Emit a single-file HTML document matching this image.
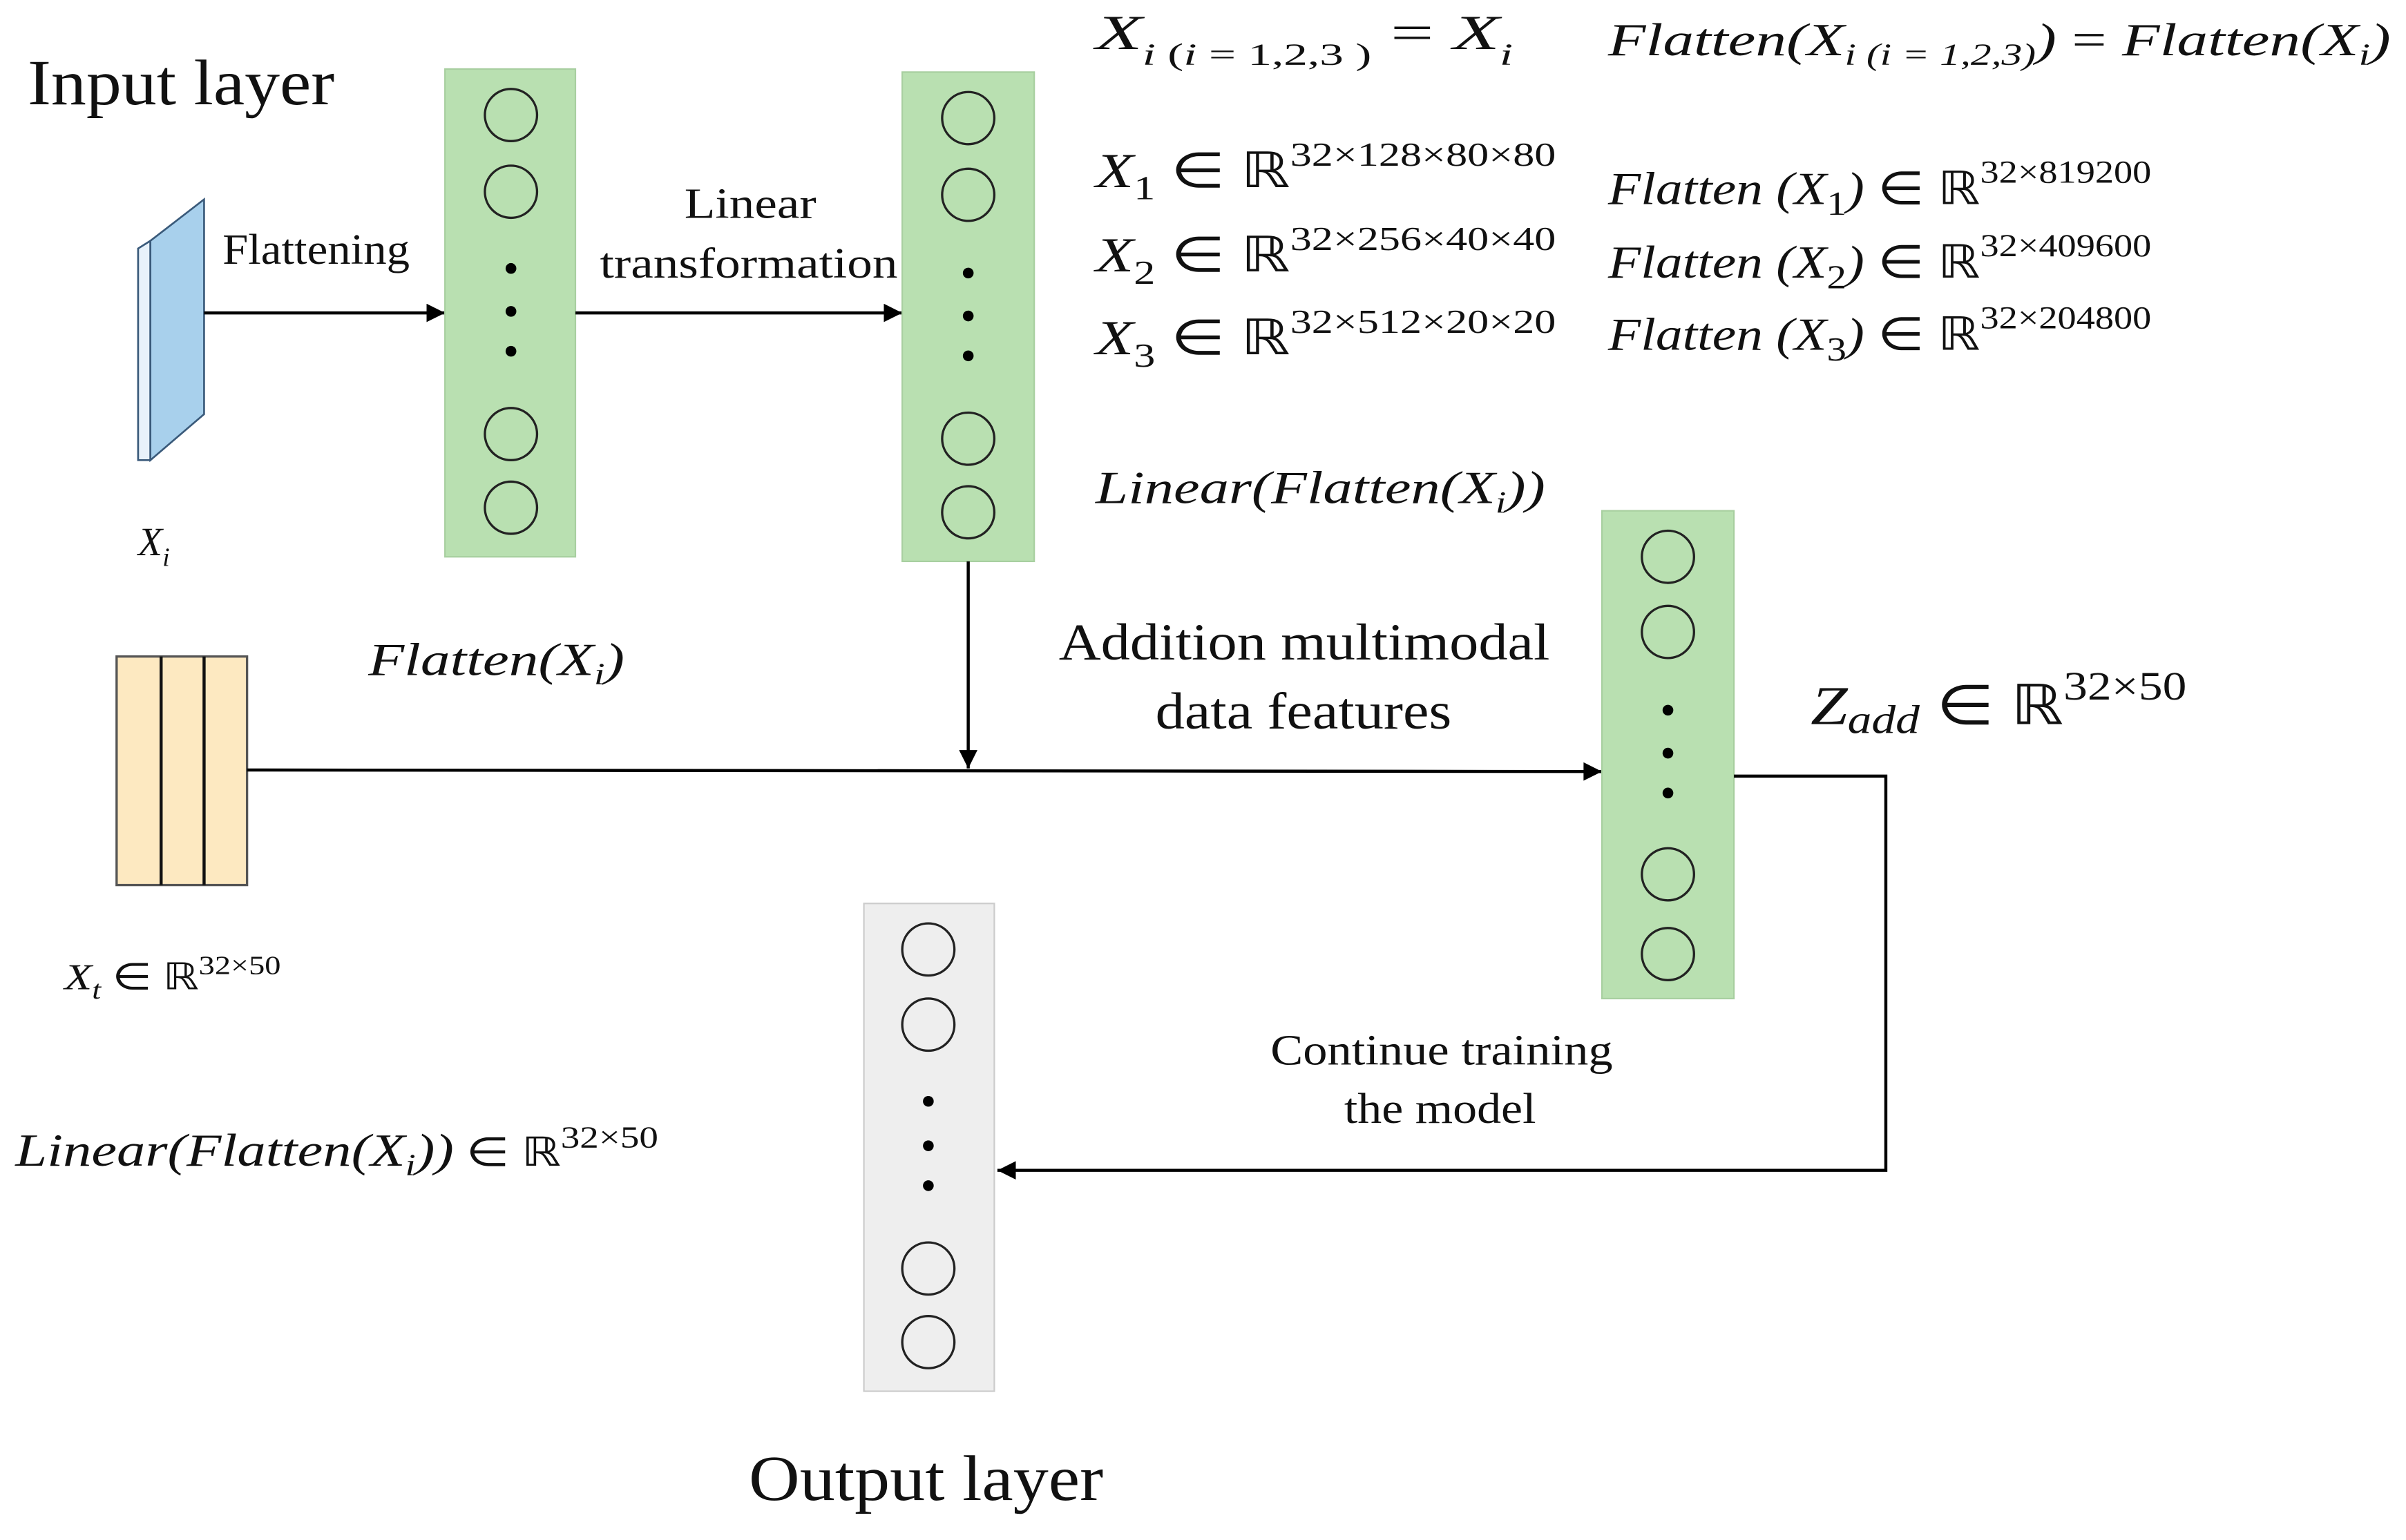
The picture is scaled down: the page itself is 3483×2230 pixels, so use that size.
<!DOCTYPE html>
<html><head><meta charset="utf-8"><style>
html,body{margin:0;padding:0;background:#fff;width:3483px;height:2230px;overflow:hidden}
svg{display:block}
.s{font-family:"Liberation Serif",serif;fill:#111}
.m{font-family:"Liberation Serif",serif;font-style:italic;fill:#111}
.n{font-style:normal}
</style></head><body>
<svg width="3483" height="2230" viewBox="0 0 1568 1004" preserveAspectRatio="none" xmlns="http://www.w3.org/2000/svg">
<defs><marker id="b" viewBox="0 0 10 10" refX="10" refY="5" markerWidth="14" markerHeight="12" orient="auto" markerUnits="userSpaceOnUse"><path d="M0,0L10,5L0,10z" fill="#000"/></marker></defs>

<text class="s" x="18" y="68" font-size="42" textLength="200" lengthAdjust="spacingAndGlyphs">Input layer</text>
<polygon points="90,162 98,157 98,300 90,300" fill="#e8f2fa" stroke="#3a5a7a" stroke-width="1.2"/>
<polygon points="98,157 133,130 133,270 98,300" fill="#a8d0ec" stroke="#3a5a7a" stroke-width="1.2"/>
<text class="m" x="90" y="362" font-size="26">X<tspan font-size="17" dy="7">i</tspan></text>
<text class="s" x="145" y="172" font-size="28" textLength="122" lengthAdjust="spacingAndGlyphs">Flattening</text>
<line x1="133" y1="204" x2="290" y2="204" stroke="#000" stroke-width="2" marker-end="url(#b)"/>

<rect x="290" y="45" width="85" height="318" fill="#b9e0b1" stroke="#a8cfa0"/>
<g fill="none" stroke="#222" stroke-width="1.5"><circle cx="333" cy="75" r="17"/><circle cx="333" cy="125" r="17"/><circle cx="333" cy="283" r="17"/><circle cx="333" cy="331" r="17"/></g>
<g fill="#000"><circle cx="333" cy="175" r="3.5"/><circle cx="333" cy="203" r="3.5"/><circle cx="333" cy="229" r="3.5"/></g>

<line x1="375" y1="204" x2="588" y2="204" stroke="#000" stroke-width="2" marker-end="url(#b)"/>
<text class="s" x="446" y="142" font-size="28" textLength="86" lengthAdjust="spacingAndGlyphs">Linear</text>
<text class="s" x="391" y="181" font-size="28" textLength="194" lengthAdjust="spacingAndGlyphs">transformation</text>

<rect x="588" y="47" width="86" height="319" fill="#b9e0b1" stroke="#a8cfa0"/>
<g fill="none" stroke="#222" stroke-width="1.5"><circle cx="631" cy="77" r="17"/><circle cx="631" cy="127" r="17"/><circle cx="631" cy="286" r="17"/><circle cx="631" cy="334" r="17"/></g>
<g fill="#000"><circle cx="631" cy="178" r="3.5"/><circle cx="631" cy="206" r="3.5"/><circle cx="631" cy="232" r="3.5"/></g>

<g class="m" font-size="32">
<text x="714" y="32" textLength="272" lengthAdjust="spacingAndGlyphs">X<tspan font-size="20" dy="10">i</tspan><tspan font-size="20" class="n"> (</tspan><tspan font-size="20">i</tspan><tspan font-size="20" class="n"> = 1,2,3 )</tspan><tspan dy="-10" class="n">  =  </tspan>X<tspan font-size="20" dy="10">i</tspan></text>
<text x="1048" y="36" font-size="30" textLength="510" lengthAdjust="spacingAndGlyphs">Flatten(X<tspan font-size="20" dy="6">i (i = 1,2,3)</tspan><tspan dy="-6">)</tspan><tspan class="n">   =   </tspan>Flatten(X<tspan font-size="20" dy="6">i</tspan><tspan dy="-6">)</tspan></text>
<text x="714" y="122" textLength="300" lengthAdjust="spacingAndGlyphs">X<tspan font-size="22" dy="8" class="n">1</tspan><tspan dy="-8" class="n"> ∈ ℝ</tspan><tspan font-size="22" dy="-14" class="n">32×128×80×80</tspan></text>
<text x="714" y="177" textLength="300" lengthAdjust="spacingAndGlyphs">X<tspan font-size="22" dy="8" class="n">2</tspan><tspan dy="-8" class="n"> ∈ ℝ</tspan><tspan font-size="22" dy="-14" class="n">32×256×40×40</tspan></text>
<text x="714" y="231" textLength="300" lengthAdjust="spacingAndGlyphs">X<tspan font-size="22" dy="8" class="n">3</tspan><tspan dy="-8" class="n"> ∈ ℝ</tspan><tspan font-size="22" dy="-14" class="n">32×512×20×20</tspan></text>
<text x="1048" y="133" font-size="30" textLength="354" lengthAdjust="spacingAndGlyphs">Flatten (X<tspan font-size="22" dy="7" class="n">1</tspan><tspan dy="-7">)</tspan><tspan class="n"> ∈ ℝ</tspan><tspan font-size="21" dy="-14" class="n">32×819200</tspan></text>
<text x="1048" y="181" font-size="30" textLength="354" lengthAdjust="spacingAndGlyphs">Flatten (X<tspan font-size="22" dy="7" class="n">2</tspan><tspan dy="-7">)</tspan><tspan class="n"> ∈ ℝ</tspan><tspan font-size="21" dy="-14" class="n">32×409600</tspan></text>
<text x="1048" y="228" font-size="30" textLength="354" lengthAdjust="spacingAndGlyphs">Flatten (X<tspan font-size="22" dy="7" class="n">3</tspan><tspan dy="-7">)</tspan><tspan class="n"> ∈ ℝ</tspan><tspan font-size="21" dy="-14" class="n">32×204800</tspan></text>
<text x="714" y="328" font-size="30" textLength="293" lengthAdjust="spacingAndGlyphs">Linear(Flatten(X<tspan font-size="20" dy="6">i</tspan><tspan dy="-6">))</tspan></text>
</g>

<rect x="76" y="428" width="85" height="149" fill="#fde9c1" stroke="#555" stroke-width="1.5"/>
<line x1="105" y1="428" x2="105" y2="577" stroke="#111" stroke-width="2"/>
<line x1="133" y1="428" x2="133" y2="577" stroke="#111" stroke-width="2"/>
<text class="m" x="42" y="645" font-size="24" textLength="141" lengthAdjust="spacingAndGlyphs">X<tspan font-size="17" dy="6">t</tspan><tspan dy="-6" class="n"> ∈ ℝ</tspan><tspan font-size="17" dy="-10" class="n">32×50</tspan></text>
<text class="m" x="240" y="440" font-size="30" textLength="167" lengthAdjust="spacingAndGlyphs">Flatten(X<tspan font-size="20" dy="6">i</tspan><tspan dy="-6">)</tspan></text>

<line x1="161" y1="502" x2="1044" y2="503" stroke="#000" stroke-width="2" marker-end="url(#b)"/>
<line x1="631" y1="366" x2="631" y2="501" stroke="#000" stroke-width="2" marker-end="url(#b)"/>
<text class="s" x="690" y="430" font-size="34" textLength="320" lengthAdjust="spacingAndGlyphs">Addition multimodal</text>
<text class="s" x="753" y="475" font-size="34" textLength="193" lengthAdjust="spacingAndGlyphs">data features</text>

<rect x="1044" y="333" width="86" height="318" fill="#b9e0b1" stroke="#a8cfa0"/>
<g fill="none" stroke="#222" stroke-width="1.5"><circle cx="1087" cy="363" r="17"/><circle cx="1087" cy="412" r="17"/><circle cx="1087" cy="570" r="17"/><circle cx="1087" cy="622" r="17"/></g>
<g fill="#000"><circle cx="1087" cy="463" r="3.5"/><circle cx="1087" cy="491" r="3.5"/><circle cx="1087" cy="517" r="3.5"/></g>
<text class="m" x="1180" y="472" font-size="36" textLength="245" lengthAdjust="spacingAndGlyphs">Z<tspan font-size="26" dy="6">add</tspan><tspan dy="-6" class="n"> ∈ ℝ</tspan><tspan font-size="26" dy="-16" class="n">32×50</tspan></text>

<polyline points="1130,506 1229,506 1229,763 650,763" fill="none" stroke="#000" stroke-width="2" marker-end="url(#b)"/>
<text class="s" x="828" y="694" font-size="28" textLength="223" lengthAdjust="spacingAndGlyphs">Continue training</text>
<text class="s" x="876" y="732" font-size="28" textLength="125" lengthAdjust="spacingAndGlyphs">the model</text>

<rect x="563" y="589" width="85" height="318" fill="#eeeeee" stroke="#cccccc"/>
<g fill="none" stroke="#222" stroke-width="1.5"><circle cx="605" cy="619" r="17"/><circle cx="605" cy="668" r="17"/><circle cx="605" cy="827" r="17"/><circle cx="605" cy="875" r="17"/></g>
<g fill="#000"><circle cx="605" cy="718" r="3.5"/><circle cx="605" cy="747" r="3.5"/><circle cx="605" cy="773" r="3.5"/></g>

<text class="m" x="10" y="760" font-size="30" textLength="419" lengthAdjust="spacingAndGlyphs">Linear(Flatten(X<tspan font-size="20" dy="6">i</tspan><tspan dy="-6">))</tspan><tspan class="n" font-size="26"> ∈ ℝ</tspan><tspan font-size="20" dy="-12" class="n">32×50</tspan></text>
<text class="s" x="488" y="978" font-size="42" textLength="231" lengthAdjust="spacingAndGlyphs">Output layer</text>
</svg>
</body></html>
